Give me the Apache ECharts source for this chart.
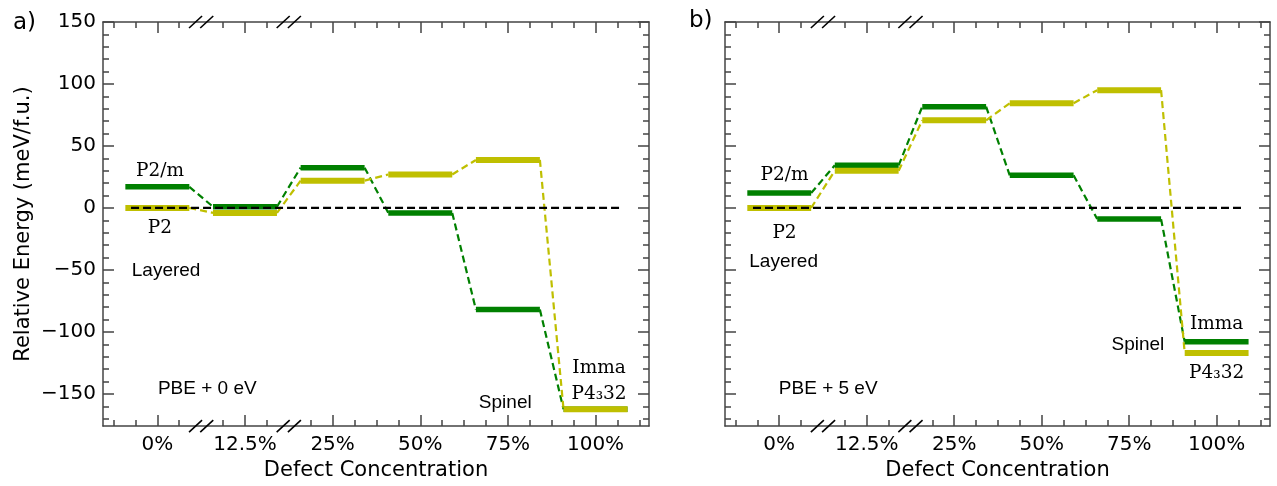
<!DOCTYPE html>
<html>
<head>
<meta charset="utf-8">
<script src="https://cdn.jsdelivr.net/npm/echarts@6/dist/echarts.min.js"></script>
<style>
  html, body { margin: 0; padding: 0; background: #fff; }
  #chart { width: 1277px; height: 486px; }
</style>
</head>
<body>
<div id="chart"></div>
<script>
// categories along x (index 0..5)
const categories = ['0%', '12.5%', '25%', '50%', '75%', '100%'];
const xTicks = [0, 1, 2, 3, 4, 5];
const yTicks = [-150, -100, -50, 0, 50, 100, 150];
const breakAt = [0.5, 1.5];

// panel a) PBE + 0 eV
const aGreen = [17, 1, 32.5, -4, -82, -162.5];
const aYellow = [0, -4, 22, 27, 38.7, -162.5];
// panel b) PBE + 5 eV
const bGreen = [12, 34.4, 81.7, 26.3, -9, -108];
const bYellow = [0, 30, 70.7, 84.5, 95, -117];

const zeroLine = [[-0.3, 0], [5.3, 0]];

// text notes: [text, x, y, font]
const aNotes = [
  ['P2/m', 0.03, 30, 'serif'],
  ['P2', 0.03, -16.5, 'serif'],
  ['Layered', 0.1, -50.5, 'sans'],
  ['PBE + 0 eV', 0.57, -146, 'sans'],
  ['Spinel', 3.97, -157, 'sans'],
  ['Imma', 5.04, -129.5, 'serif'],
  ['P4\u208332', 5.04, -150, 'serif']
];
const bNotes = [
  ['P2/m', 0.06, 26.7, 'serif'],
  ['P2', 0.06, -20.6, 'serif'],
  ['Layered', 0.05, -43.8, 'sans'],
  ['PBE + 5 eV', 0.56, -146, 'sans'],
  ['Spinel', 4.1, -110, 'sans'],
  ['Imma', 5.0, -93.4, 'serif'],
  ['P4\u208332', 5.0, -133, 'serif']
];

const X_MIN = -0.62, X_MAX = 5.61;
const Y_MIN = -176, Y_MAX = 150;
const HALF = 0.365;
const GREEN = '#008000', YELLOW = '#bfbf00', FRAME = '#444';
const SANS = 'DejaVu Sans';

const xMinor = [];
for (let v = -0.5; v <= 5.5; v += 0.25) {
  if (!Number.isInteger(v) && breakAt.indexOf(v) < 0) xMinor.push(v);
}
const yMinor = [];
for (let v = -170; v <= 150; v += 10) {
  if (v % 50 !== 0) yMinor.push(v);
}

const chart = echarts.init(document.getElementById('chart'));

function fmtY(v) {
  return v < 0 ? '\u2212' + Math.abs(v) : String(v);
}

function makeXAxes(g) {
  const base = { type: 'value', gridIndex: g, min: X_MIN, max: X_MAX, splitLine: { show: false } };
  const line = { show: true, onZero: false, lineStyle: { color: FRAME, width: 1.5 } };
  const major = { show: true, inside: true, length: 11, customValues: xTicks, lineStyle: { color: FRAME, width: 1.5 } };
  const minor = { show: true, inside: true, length: 6, customValues: xMinor, lineStyle: { color: FRAME, width: 1.5 } };
  return [
    {
      ...base, position: 'bottom', axisLine: line, axisTick: major,
      axisLabel: { customValues: xTicks, formatter: (v) => categories[v], margin: 9, color: '#000', fontSize: 20, fontFamily: SANS },
      name: 'Defect Concentration', nameLocation: 'middle', nameGap: 28,
      nameTextStyle: { fontSize: 21, fontFamily: SANS, color: '#000' }
    },
    { ...base, position: 'bottom', axisLine: { show: false, onZero: false }, axisTick: minor, axisLabel: { show: false } },
    { ...base, position: 'top', axisLine: line, axisTick: major, axisLabel: { show: false } },
    { ...base, position: 'top', axisLine: { show: false, onZero: false }, axisTick: minor, axisLabel: { show: false } }
  ];
}

function makeYAxes(g, withLabels) {
  const base = { type: 'value', gridIndex: g, min: Y_MIN, max: Y_MAX, splitLine: { show: false } };
  const line = { show: true, onZero: false, lineStyle: { color: FRAME, width: 1.5 } };
  const major = { show: true, inside: true, length: 11, customValues: yTicks, lineStyle: { color: FRAME, width: 1.5 } };
  const minor = { show: true, inside: true, length: 6, customValues: yMinor, lineStyle: { color: FRAME, width: 1.5 } };
  const left = { ...base, position: 'left', axisLine: line, axisTick: major };
  if (withLabels) {
    left.axisLabel = { customValues: yTicks, formatter: fmtY, margin: 7, color: '#000', fontSize: 20, fontFamily: SANS };
    left.name = 'Relative Energy (meV/f.u.)';
    left.nameLocation = 'middle';
    left.nameGap = 69;
    left.nameTextStyle = { fontSize: 21, fontFamily: SANS, color: '#000' };
  } else {
    left.axisLabel = { show: false };
  }
  return [
    left,
    { ...base, position: 'left', axisLine: { show: false, onZero: false }, axisTick: minor, axisLabel: { show: false } },
    { ...base, position: 'right', axisLine: line, axisTick: major, axisLabel: { show: false } },
    { ...base, position: 'right', axisLine: { show: false, onZero: false }, axisTick: minor, axisLabel: { show: false } }
  ];
}

function levels(values, color, width, ax, z) {
  return {
    type: 'custom', xAxisIndex: ax, yAxisIndex: ax, z: z, silent: true,
    data: values.map((v, i) => [i, v]),
    encode: { x: 0, y: 1 },
    renderItem: (params, api) => {
      const i = api.value(0), v = api.value(1);
      const p1 = api.coord([i - HALF, v]);
      const p2 = api.coord([i + HALF, v]);
      return {
        type: 'line',
        shape: { x1: p1[0], y1: p1[1], x2: p2[0], y2: p2[1] },
        style: { stroke: color, lineWidth: width, lineCap: 'butt' }
      };
    }
  };
}

function links(values, color, ax) {
  return {
    type: 'custom', xAxisIndex: ax, yAxisIndex: ax, z: 2, silent: true,
    data: values.slice(0, -1).map((v, i) => [i, v, values[i + 1]]),
    encode: { x: 0, y: [1, 2] },
    renderItem: (params, api) => {
      const i = api.value(0);
      const p1 = api.coord([i + HALF, api.value(1)]);
      const p2 = api.coord([i + 1 - HALF, api.value(2)]);
      return {
        type: 'line',
        shape: { x1: p1[0], y1: p1[1], x2: p2[0], y2: p2[1] },
        style: { stroke: color, lineWidth: 2.2, lineDash: [7, 4] }
      };
    }
  };
}

function breaks(ax) {
  return {
    type: 'custom', xAxisIndex: ax, yAxisIndex: ax, z: 10, silent: true,
    data: breakAt.map((x) => [x, Y_MAX]),
    encode: { x: 0, y: 1 },
    renderItem: (params, api) => {
      const x = api.value(0);
      const kids = [];
      [Y_MAX, Y_MIN].forEach((yv) => {
        const c = api.coord([x, yv]);
        [-5.6, 5.6].forEach((d) => {
          kids.push({
            type: 'line',
            shape: { x1: c[0] + d - 6.5, y1: c[1] + 6, x2: c[0] + d + 6.5, y2: c[1] - 6 },
            style: { stroke: '#000', lineWidth: 1.6 }
          });
        });
      });
      return { type: 'group', children: kids };
    }
  };
}

function notes(list, ax) {
  return {
    type: 'custom', xAxisIndex: ax, yAxisIndex: ax, z: 11, silent: true,
    data: list.map((n) => [n[1], n[2]]),
    encode: { x: 0, y: 1 },
    renderItem: (params, api) => {
      const n = list[params.dataIndex];
      const p = api.coord([api.value(0), api.value(1)]);
      const serif = n[3] === 'serif';
      return {
        type: 'text', x: p[0], y: p[1],
        style: {
          text: n[0], fill: '#000',
          fontSize: serif ? 18.5 : 19,
          fontFamily: serif ? 'DejaVu Serif' : 'Liberation Sans',
          align: 'center', verticalAlign: 'middle'
        }
      };
    }
  };
}

function zero(ax) {
  return {
    type: 'line', xAxisIndex: ax, yAxisIndex: ax, z: 6, silent: true,
    data: zeroLine, symbol: 'none',
    lineStyle: { color: '#000', width: 2.3, type: [8, 4] }
  };
}

function panel(green, yellow, list, ax) {
  return [
    links(green, GREEN, ax),
    links(yellow, YELLOW, ax),
    levels(green, GREEN, 5.5, ax, 3),
    levels(yellow, YELLOW, 6, ax, 4),
    zero(ax),
    breaks(ax),
    notes(list, ax)
  ];
}

const option = {
  backgroundColor: '#fff',
  animation: false,
  title: [
    { text: 'a)', left: 13, top: 12, padding: 0, textStyle: { fontSize: 23, fontWeight: 'normal', fontFamily: SANS, color: '#000' } },
    { text: 'b)', left: 689, top: 10, padding: 0, textStyle: { fontSize: 23, fontWeight: 'normal', fontFamily: SANS, color: '#000' } }
  ],
  grid: [
    { left: 103, top: 22, width: 546, height: 407 },
    { left: 725, top: 22, width: 545, height: 407 }
  ],
  xAxis: [...makeXAxes(0), ...makeXAxes(1)],
  yAxis: [...makeYAxes(0, true), ...makeYAxes(1, false)],
  series: [...panel(aGreen, aYellow, aNotes, 0), ...panel(bGreen, bYellow, bNotes, 4)]
};

chart.setOption(option);
</script>
</body>
</html>
